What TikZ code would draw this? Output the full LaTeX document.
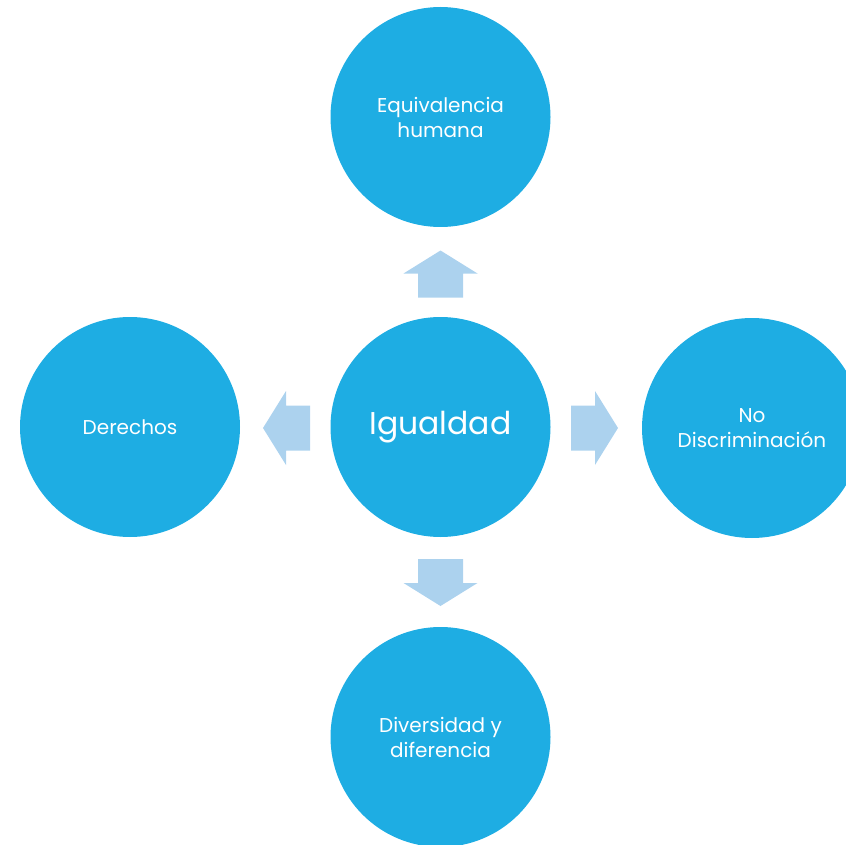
\documentclass[tikz,border=0pt]{standalone}
\usepackage{fontspec}
\setmainfont{Poppins}
\definecolor{circblue}{RGB}{30,173,227}
\definecolor{arrblue}{RGB}{172,210,238}
\tikzset{
  bubble/.style={circle, fill=circblue, draw=none, minimum size=220pt, inner sep=0pt,
    text=white, align=center, font=\fontsize{20}{25}\selectfont},
  bigbubble/.style={bubble, font=\fontsize{31.5}{36}\selectfont},
  blockarrow/.pic={\fill[arrblue] (-23.5,-22.5) -- (0.5,-22.5) -- (0.5,-37) -- (23.5,0) -- (0.5,37) -- (0.5,22.5) -- (-23.5,22.5) -- cycle;}
}
\begin{document}
\begin{tikzpicture}[x=1pt,y=1pt]
\useasboundingbox (0,0) rectangle (846,-845);
\node[bigbubble] (C) at (440.5,-427) {Igualdad};
\node[bubble] (T) at (440.5,-117) {Equivalencia\\humana};
\node[bubble] (L) at (130,-427) {Derechos};
\node[bubble] (R) at (752,-428) {No\\Discriminación};
\node[bubble] (B) at (440.5,-737) {Diversidad y\\diferencia};
\pic[rotate=90] at (440.5,-274) {blockarrow};
\pic[rotate=-90] at (440.5,-582.5) {blockarrow};
\pic[rotate=180] at (286.5,-428) {blockarrow};
\pic at (594.5,-428) {blockarrow};
\end{tikzpicture}
\end{document}
